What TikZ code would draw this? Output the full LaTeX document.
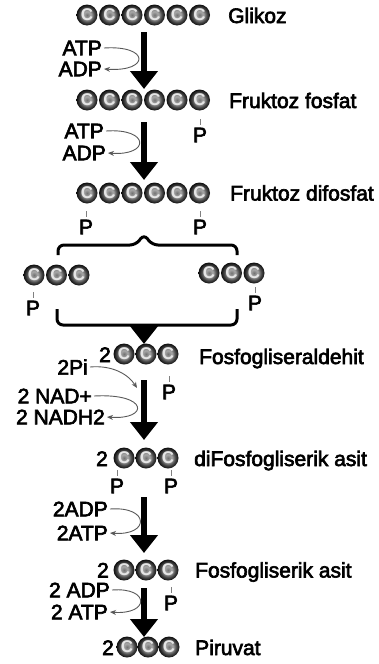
\documentclass[tikz,border=0pt]{standalone}
\usepackage{fontspec}
\setmainfont{Liberation Sans}
\newfontfamily\heavyfont[FakeBold=3]{Liberation Sans}
\usetikzlibrary{arrows.meta}
\pgfdeclareradialshading{cball}{\pgfpoint{0bp}{0bp}}{color(0bp)=(black!55); color(9bp)=(gray!65); color(17bp)=(black!70); color(25bp)=(black!95); color(50bp)=(black!95)}
\begin{document}
\begin{tikzpicture}[x=1pt,y=-1pt,
  lbl/.style={font=\heavyfont\fontsize{21}{25}\selectfont, inner sep=0pt},
  ball/.style={circle, minimum size=21pt, inner sep=0pt, shading=cball,
    font=\fontsize{17}{17}\selectfont\bfseries, text=white!80!gray},
  bigarrow/.style={line width=6pt, -{Triangle[width=27pt,length=18pt]}},
  thinarrow/.style={gray!70!black, line width=0.9pt, -{Stealth[length=6pt,width=5pt]}},
  ptick/.style={gray, line width=0.8pt},
  brk/.style={line width=3pt, rounded corners=6pt}]
\useasboundingbox (0,0) rectangle (378,664);

% --- Glikoz
\foreach \i in {1,...,6} \node[ball] (g\i) at ({87+22.5*(\i-1)},15) {C};
\node[lbl, anchor=base west] (tglik) at (228,23) {Glikoz};

% --- Fruktoz fosfat
\foreach \i in {1,...,6} \node[ball] (f\i) at ({87+22.5*(\i-1)},100) {C};
\node[lbl, anchor=base west] (tff) at (229,108) {Fruktoz fosfat};
\node[lbl] (pf) at (200,135) {P};
\draw[ptick] ([yshift=3pt]pf.north) -- ++(0,-6);

% --- Fruktoz difosfat
\foreach \i in {1,...,6} \node[ball] (d\i) at ({87+22.5*(\i-1)},193) {C};
\node[lbl, anchor=base west] (tfdf) at (230,200.5) {Fruktoz difosfat};
\node[lbl] (pd1) at (86,227) {P};
\node[lbl] (pd2) at (200,227) {P};
\draw[ptick] ([yshift=3pt]pd1.north) -- ++(0,-6);
\draw[ptick] ([yshift=3pt]pd2.north) -- ++(0,-6);

% --- brace
\draw[brk] (58,255) -- (58,245) -- (136,245) -- (144,234) -- (152,245) -- (237,245) -- (237,255);

% --- two C3
\foreach \i in {1,2,3} \node[ball] (l\i) at ({34+22.5*(\i-1)},275) {C};
\foreach \i in {1,2,3} \node[ball] (r\i) at ({209+22.5*(\i-1)},273) {C};
\node[lbl] (pl) at (33,308) {P};
\node[lbl] (pr) at (255,303) {P};
\draw[ptick] ([yshift=3pt]pl.north) -- ++(0,-6);
\draw[ptick] ([yshift=3pt]pr.north) -- ++(0,-6);

% --- bracket
\draw[brk] (57,309) -- (57,325) -- (237,325) -- (237,309);
\coordinate (bk) at (144,324);
\coordinate (bke) at (144,344);
\draw[bigarrow] (bk) -- (bke);

% --- Fosfogliseraldehit
\foreach \i in {1,2,3} \node[ball] (a\i) at ({124+22*(\i-1)},354) {C};
\node[lbl, anchor=base east] (na) at (111,362) {2};
\node[lbl, anchor=base west] (tfga) at (199,364) {Fosfogliseraldehit};
\node[lbl] (pa) at (169,392) {P};
\draw[ptick] ([yshift=3pt]pa.north) -- ++(0,-6);

% --- diFosfogliserik asit
\foreach \i in {1,2,3} \node[ball] (b\i) at ({124+22*(\i-1)},458) {C};
\node[lbl, anchor=base east] (nb) at (108,466) {2};
\node[lbl, anchor=base west] (tdfg) at (194,466) {diFosfogliserik asit};
\node[lbl] (pb1) at (117,486) {P};
\node[lbl] (pb2) at (171,486) {P};
\draw[ptick] ([yshift=3pt]pb1.north) -- ++(0,-6);
\draw[ptick] ([yshift=3pt]pb2.north) -- ++(0,-6);

% --- Fosfogliserik asit
\foreach \i in {1,2,3} \node[ball] (c\i) at ({124+22*(\i-1)},570) {C};
\node[lbl, anchor=base east] (nc) at (109,577.5) {2};
\node[lbl, anchor=base west] (tfg) at (195,577.5) {Fosfogliserik asit};
\node[lbl] (pc) at (171,603) {P};
\draw[ptick] ([yshift=3pt]pc.north) -- ++(0,-6);

% --- Piruvat
\foreach \i in {1,2,3} \node[ball] (e\i) at ({127+21*(\i-1)},647) {C};
\node[lbl, anchor=base east] (ne) at (114,655) {2};
\node[lbl, anchor=base west] (tpir) at (195,655) {Piruvat};

% --- main arrows
\coordinate (s1) at (144,32);  \coordinate (e1) at (144,89);
\coordinate (s2) at (144,122); \coordinate (e2) at (144,180);
\coordinate (s3) at (144,380); \coordinate (e3) at (144,440);
\coordinate (s4) at (144,497); \coordinate (e4) at (144,553);
\coordinate (s5) at (144,588); \coordinate (e5) at (144,637);
\draw[bigarrow] (s1) -- (e1);
\draw[bigarrow] (s2) -- (e2);
\draw[bigarrow] (s3) -- (e3);
\draw[bigarrow] (s4) -- (e4);
\draw[bigarrow] (s5) -- (e5);

% --- side reactions
\node[lbl, anchor=east] (atp1) at (102,48) {ATP};
\node[lbl, anchor=east] (adp1) at (102,69) {ADP};
\draw[thinarrow] ([xshift=2pt]atp1.east) .. controls (150,45) and (150,72) .. ([xshift=2pt]adp1.east);

\node[lbl, anchor=east] (atp2) at (104,131) {ATP};
\node[lbl, anchor=east] (adp2) at (106,153) {ADP};
\draw[thinarrow] ([xshift=2pt]atp2.east) .. controls (150,128) and (150,156) .. ([xshift=2pt]adp2.east);

\node[lbl, anchor=east] (pi) at (88,367) {2Pi};
\coordinate (pie) at (137,388);
\draw[thinarrow] ([xshift=2pt]pi.east) .. controls (112,365) and (128,374) .. (pie);

\node[lbl, anchor=east] (nad) at (92,396) {2 NAD+};
\node[lbl, anchor=east] (nadh) at (105,417) {2 NADH2};
\draw[thinarrow] ([xshift=2pt]nad.east) .. controls (149,393) and (149,420) .. ([xshift=2pt]nadh.east);

\node[lbl, anchor=east] (adp3) at (108,509) {2ADP};
\node[lbl, anchor=east] (atp3) at (108,533) {2ATP};
\draw[thinarrow] ([xshift=2pt]adp3.east) .. controls (150,506) and (150,536) .. ([xshift=2pt]atp3.east);

\node[lbl, anchor=east] (adp4) at (110,590) {2 ADP};
\node[lbl, anchor=east] (atp4) at (108,612) {2 ATP};
\draw[thinarrow] ([xshift=2pt]adp4.east) .. controls (150,587) and (150,615) .. ([xshift=2pt]atp4.east);
\end{tikzpicture}
\end{document}
